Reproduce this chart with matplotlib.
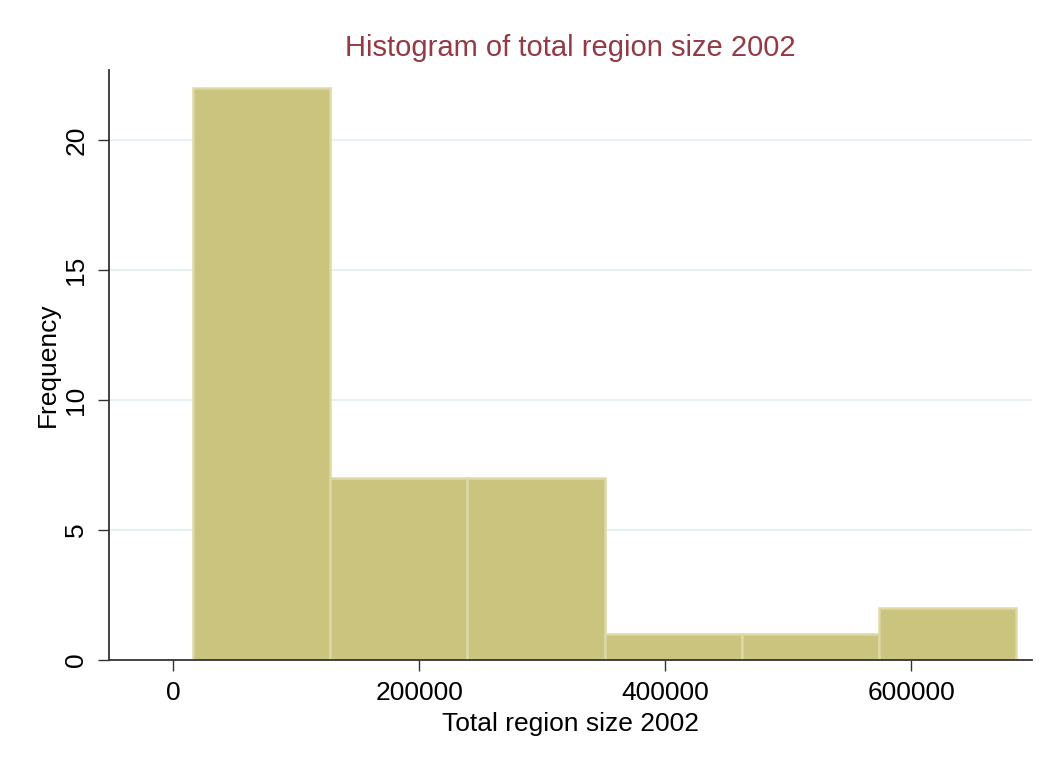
import matplotlib
matplotlib.use("Agg")
import matplotlib.pyplot as plt

# Histogram counts of total region size (2002), six equal-width bins
bin_start = 16300
bin_width = 111500
counts = [22, 7, 7, 1, 1, 2]
x_ticks = [0, 200000, 400000, 600000]
y_ticks = [0, 5, 10, 15, 20]

plt.rcParams["font.family"] = ["Liberation Sans", "DejaVu Sans"]

W, H = 1061, 771
fig = plt.figure(figsize=(W / 100, H / 100), dpi=100)
ax = fig.add_axes([109 / W, (H - 660) / H, (1032 - 109) / W, (660 - 70) / H])

edges = [bin_start + i * bin_width for i in range(len(counts))]
ax.bar(edges, counts, width=bin_width, align="edge",
       color="#CBC47F", edgecolor="#DDD9A6", linewidth=1.8, zorder=2)

ax.set_xlim(-52000, 698000)
ax.set_ylim(0, 22.7)
ax.set_xticks(x_ticks)
ax.set_yticks(y_ticks)
ax.set_xticklabels([str(v) for v in x_ticks], fontsize=19)
ax.set_yticklabels([str(v) for v in y_ticks], fontsize=19, rotation=90, va="center")

ax.grid(axis="y", color="#E6EFF1", linewidth=1.3, zorder=0)
ax.set_axisbelow(True)
for s in ("top", "right"):
    ax.spines[s].set_visible(False)
for s in ("left", "bottom"):
    ax.spines[s].set_color("#333333")
    ax.spines[s].set_linewidth(1.3)
ax.spines["bottom"].set_zorder(3)
ax.tick_params(axis="both", direction="out", length=8, width=1, color="#333333", pad=7)

ax.set_xlabel("Total region size 2002", fontsize=19, labelpad=5)
ax.set_ylabel("Frequency", fontsize=19, labelpad=3)
fig.text(0.5 * (109 + 1032) / W, 1 - 48 / H, "Histogram of total region size 2002",
         fontsize=21, color="#933A44", ha="center", va="center")

fig.savefig("out.png", dpi=100, facecolor="white")
